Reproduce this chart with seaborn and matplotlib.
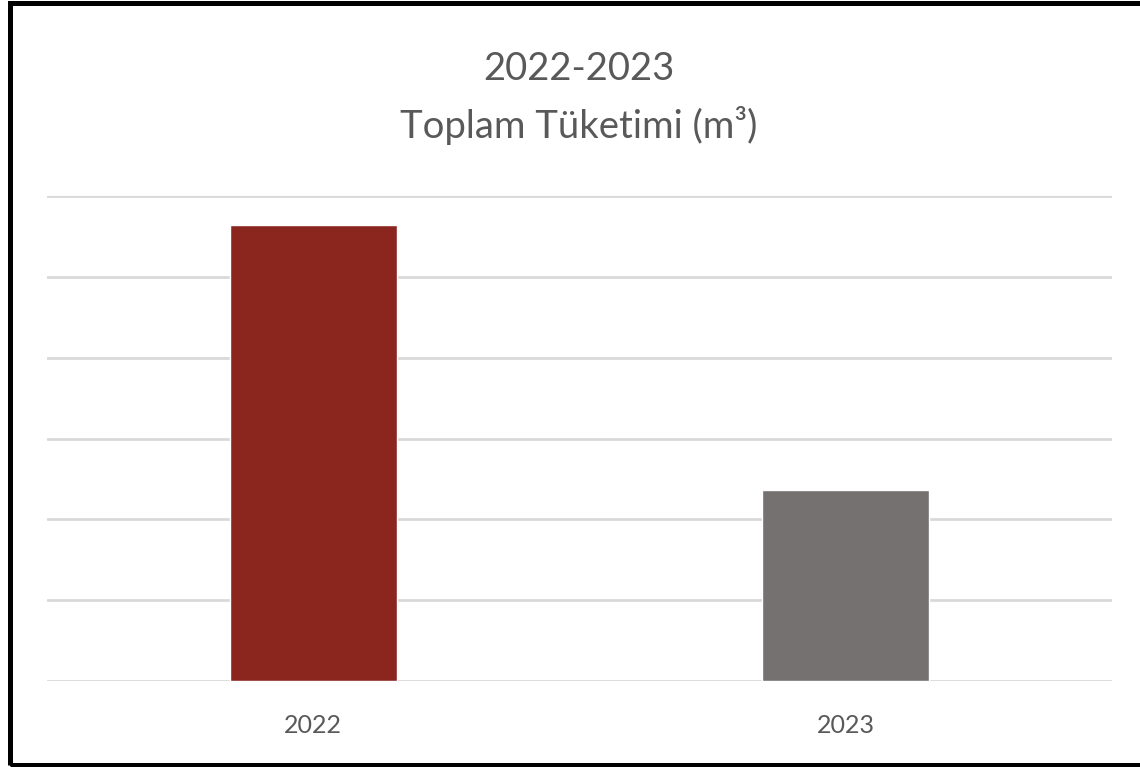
import matplotlib
matplotlib.use("Agg")
import matplotlib.pyplot as plt
import seaborn as sns
import pandas as pd
from matplotlib.patches import Rectangle

# chart values (gridline units)
years = ["2022", "2023"]
consumption = [5.64, 2.36]
bar_colors = ["#8B261E", "#767171"]
title_text = "2022-2023\nToplam Tüketimi (m³)"

sns.set_theme(style="white")
plt.rcParams["font.family"] = ["Lato", "DejaVu Sans"]

df = pd.DataFrame({"Year": years, "Value": consumption})

fig = plt.figure(figsize=(11.4, 7.67), dpi=100)
ax = fig.add_axes([47 / 1140, 86 / 767, 1065 / 1140, 485 / 767])

sns.barplot(data=df, x="Year", y="Value", hue="Year", palette=bar_colors,
            width=0.314, legend=False, ax=ax, saturation=1)

ax.set_xlim(-0.5, 1.5)
ax.set_ylim(0, 6)
ax.set_yticks(range(0, 7))
ax.yaxis.grid(True, color="#D9D9D9", linewidth=2)
ax.set_axisbelow(True)
ax.tick_params(axis="y", left=False, labelleft=False)
ax.tick_params(axis="x", bottom=False, labelsize=18, labelcolor="#595959", pad=18)
ax.set_xlabel("")
ax.set_ylabel("")
sns.despine(ax=ax, left=True, bottom=True)

fig.text(0.508, 0.872, title_text, ha="center", va="center", fontsize=27.5,
         color="#595959", linespacing=1.6)

# outer frame, cropped on the right like the screenshot
fig.patches.append(Rectangle((9.5 / 1140, 2.5 / 767), 1.2, 762 / 767,
                             transform=fig.transFigure, fill=False,
                             edgecolor="black", linewidth=3.6, clip_on=False))

fig.savefig("out.png", dpi=100)
